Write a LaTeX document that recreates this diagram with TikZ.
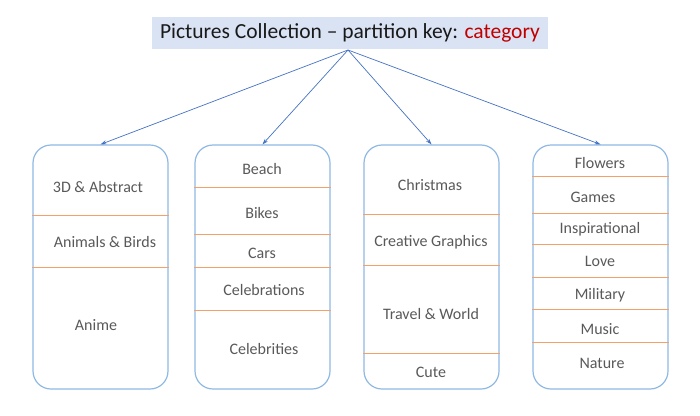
\documentclass[tikz,border=0pt]{standalone}
\usepackage{fontspec}
\setmainfont{Carlito}
\usetikzlibrary{arrows.meta}
\definecolor{titlefill}{HTML}{DAE3F3}
\definecolor{keyred}{HTML}{C00000}
\definecolor{arrowblue}{HTML}{4472C4}
\definecolor{boxblue}{HTML}{8FB8E3}
\definecolor{divorange}{HTML}{F4A06A}
\definecolor{labelgray}{HTML}{595959}
\tikzset{
  colbox/.style={draw=boxblue, line width=1.2pt, rounded corners=18pt, minimum width=135pt, minimum height=244pt, inner sep=0pt},
  divider/.style={draw=divorange, line width=0.9pt},
  lbl/.style={text=labelgray, font=\fontsize{16}{19}\selectfont, inner sep=1pt},
  conn/.style={draw=arrowblue, line width=0.7pt, -{Stealth[length=6pt,width=4pt]}},
}
\begin{document}
\begin{tikzpicture}[x=1pt,y=-1pt]
\useasboundingbox (0,0) rectangle (700,415);
% title
\node[fill=titlefill, minimum width=396pt, minimum height=32pt, inner sep=0pt, text=black!90, font=\fontsize{21.5}{25}\selectfont] (title) at (350,33) {Pictures Collection -- partition key: \textcolor{keyred}{category}};
\coordinate (root) at (348,50);
% boxes
\node[colbox] (b1) at (100.5,267) {};
\node[colbox] (b2) at (262.5,267) {};
\node[colbox] (b3) at (431.5,267) {};
\node[colbox] (b4) at (600.5,267) {};
% arrows
\foreach \b in {b1,b2,b3,b4} \draw[conn] (root) -- (\b.north);
% dividers
\foreach \b/\yy in {b1/215,b1/267,
                    b2/187,b2/234,b2/267,b2/310,
                    b3/214,b3/265,b3/353,
                    b4/176,b4/213,b4/244,b4/277,b4/309,b4/342}
  \draw[divider] (\b.west |- 0,\yy) -- (\b.east |- 0,\yy);
% labels box 1
\node[lbl] (l11) at (98,187) {3D \& Abstract};
\node[lbl] (l12) at (105,242) {Animals \& Birds};
\node[lbl] (l13) at (96,325) {Anime};
% box 2
\node[lbl] (l21) at (262,169) {Beach};
\node[lbl] (l22) at (262,213) {Bikes};
\node[lbl] (l23) at (262,253) {Cars};
\node[lbl] (l24) at (264,290) {Celebrations};
\node[lbl] (l25) at (264,349) {Celebrities};
% box 3
\node[lbl] (l31) at (430,185) {Christmas};
\node[lbl] (l32) at (431,242) {Creative Graphics};
\node[lbl] (l33) at (431,314) {Travel \& World};
\node[lbl] (l34) at (431,372) {Cute};
% box 4
\node[lbl] (l41) at (600,163) {Flowers};
\node[lbl] (l42) at (593,197) {Games};
\node[lbl] (l43) at (600,229) {Inspirational};
\node[lbl] (l44) at (600,261) {Love};
\node[lbl] (l45) at (600,295) {Military};
\node[lbl] (l46) at (600,329) {Music};
\node[lbl] (l47) at (602,363) {Nature};
\end{tikzpicture}
\end{document}
